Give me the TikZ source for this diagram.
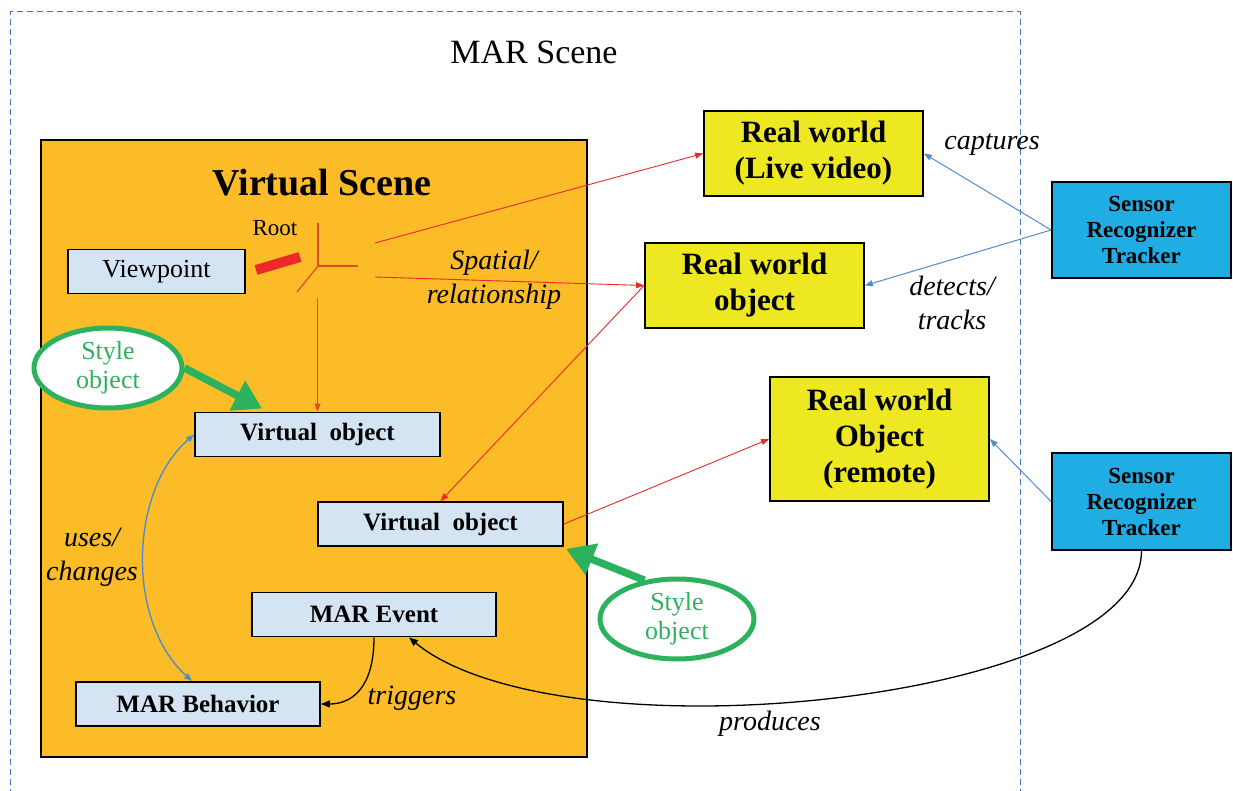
\documentclass[tikz,border=0pt]{standalone}
\usepackage{fontspec}
\setmainfont{Liberation Serif}
\usetikzlibrary{arrows.meta,shapes.geometric}

\definecolor{scenedash}{RGB}{68,114,196}
\definecolor{sceneorange}{RGB}{251,188,40}
\definecolor{boxblue}{RGB}{212,228,243}
\definecolor{rwyellow}{RGB}{237,232,34}
\definecolor{sensorblue}{RGB}{30,174,228}
\definecolor{stylegreen}{RGB}{44,178,94}
\definecolor{linered}{RGB}{236,40,40}
\definecolor{treered}{RGB}{228,70,40}
\definecolor{lineblue}{RGB}{80,140,205}

\tikzset{
  lbox/.style={draw=black, line width=1.8pt, fill=boxblue, minimum width=245pt, minimum height=44pt, inner sep=0pt, font=\fontsize{25}{28}\selectfont\bfseries},
  ybox/.style={draw=black, line width=1.8pt, fill=rwyellow, minimum width=219pt, minimum height=85pt, inner sep=0pt, align=center, font=\fontsize{31}{36}\selectfont\bfseries},
  sbox/.style={draw=black, line width=1.8pt, fill=sensorblue, minimum width=179pt, minimum height=96pt, inner sep=0pt, align=center, font=\fontsize{23}{26}\selectfont\bfseries},
  styleell/.style={ellipse, draw=stylegreen, line width=5pt, fill=white, minimum height=80pt, inner sep=0pt, text=stylegreen, align=center, font=\fontsize{26}{29}\selectfont},
  lbl/.style={align=center, font=\fontsize{28}{34}\selectfont\itshape},
  redarr/.style={draw=linered, line width=0.9pt, -{Triangle[length=8pt,width=6pt]}},
  bluearr/.style={draw=lineblue, line width=1pt, -{Triangle[length=8pt,width=6pt]}},
  blackarr/.style={draw=black, line width=1.3pt, -{Triangle[length=9pt,width=7pt]}},
  greenarr/.style={draw=stylegreen, line width=7.5pt, -{Triangle[length=28pt,width=32pt]}},
}

\begin{document}
\begin{tikzpicture}[x=1pt,y=1pt,yscale=-1]
  \useasboundingbox (0,0) rectangle (1233,791);

  % MAR scene frame
  \draw[scenedash, line width=1pt, dash pattern=on 6pt off 4pt] (10,805) -- (10,12) -- (1020,12) -- (1020,805);
  \node[font=\fontsize{34}{38}\selectfont] (marscene) at (534,52) {MAR Scene};

  % virtual scene
  \draw[fill=sceneorange, line width=2.2pt] (41,140) rectangle (587,757);
  \node[font=\fontsize{38}{42}\selectfont\bfseries] (vscene) at (322,183) {Virtual Scene};

  % boxes inside
  \node[lbox, minimum width=177pt, font=\fontsize{26}{28}\selectfont] (viewpoint) at (156.5,271.5) {Viewpoint};
  \node[lbox] (vobj1) at (317.5,434.5) {Virtual\ \ object};
  \node[lbox] (vobj2) at (440.5,524) {Virtual\ \ object};
  \node[lbox, minimum width=244pt] (event) at (374,614.5) {MAR Event};
  \node[lbox, minimum width=244pt] (behavior) at (198,704) {MAR Behavior};

  % real world
  \node[ybox] (live) at (813.5,153.5) {Real world\\(Live video)};
  \node[ybox] (realobj) at (754.5,285.5) {Real world\\object};
  \node[ybox, minimum height=124pt] (remote) at (879.5,439) {Real world\\Object\\(remote)};

  % sensors
  \node[sbox] (sensor1) at (1141.5,230) {Sensor\\Recognizer\\Tracker};
  \node[sbox, minimum height=97pt] (sensor2) at (1141.5,501.5) {Sensor\\Recognizer\\Tracker};

  % root of the scene graph
  \node[font=\fontsize{23}{26}\selectfont] (rootlbl) at (275,228) {Root};
  \draw[linered, line width=10pt] (256,270) -- (300,257);
  \coordinate (root) at (318,266);
  \coordinate (roottop) at (318,223);
  \coordinate (rootright) at (358,266);
  \coordinate (rootleft) at (297,292);
  \coordinate (rootbase) at (317.5,298);
  \draw[treered, line width=1.2pt] (roottop) -- (root) -- (rootright);
  \draw[treered, line width=1.2pt] (root) -- (rootleft);
  \draw[redarr, treered] (rootbase) -- (vobj1.north);

  \coordinate (spa1) at (375,243);
  \coordinate (spa2) at (375,277);
  \draw[redarr] (spa1) -- (live.west);
  \draw[redarr] (spa2) -- (realobj.west);
  \draw[redarr] (realobj.west) -- (vobj2.north);
  \draw[redarr] (vobj2.east) -- (remote.west);

  % sensors to real world
  \draw[bluearr] (sensor1.west) -- (live.east);
  \draw[bluearr] (sensor1.west) -- (realobj.east);
  \draw[bluearr] (sensor2.west) -- (remote.east);

  % style objects
  \node[styleell, minimum width=148pt] (style1) at (108,368) {Style\\object};
  \node[styleell, minimum width=154pt] (style2) at (677,619) {Style\\object};
  \draw[greenarr] (style1.east) -- ([xshift=68pt,yshift=-3pt]vobj1.north west);
  \draw[greenarr] (style2.130) -- ([xshift=2pt,yshift=2pt]vobj2.south east);

  % behaviour links
  \draw[bluearr, line width=1.4pt, {Triangle[length=8pt,width=6pt]}-{Triangle[length=8pt,width=6pt]}] (vobj1.west) .. controls (130,490) and (125,620) .. ([xshift=-6pt]behavior.north);
  \draw[blackarr] (event.south) .. controls (374,690) and (350,704) .. (behavior.east);
  \coordinate (prodlow) at (700,706);
  \draw[blackarr] (sensor2.south) .. controls (1141,650) and (900,706) .. (prodlow) .. controls (560,706) and (460,680) .. ([xshift=35pt]event.south);

  % labels
  \node[lbl] (spatial) at (494,280) {Spatial/\\relationship};
  \node[lbl] (captures) at (992,145) {captures};
  \node[lbl] (detects) at (952,303) {detects/\\tracks};
  \node[lbl] (uses) at (92,557) {uses/\\changes};
  \node[lbl] (triggers) at (412,698) {triggers};
  \node[lbl] (produces) at (770,724) {produces};
\end{tikzpicture}
\end{document}
